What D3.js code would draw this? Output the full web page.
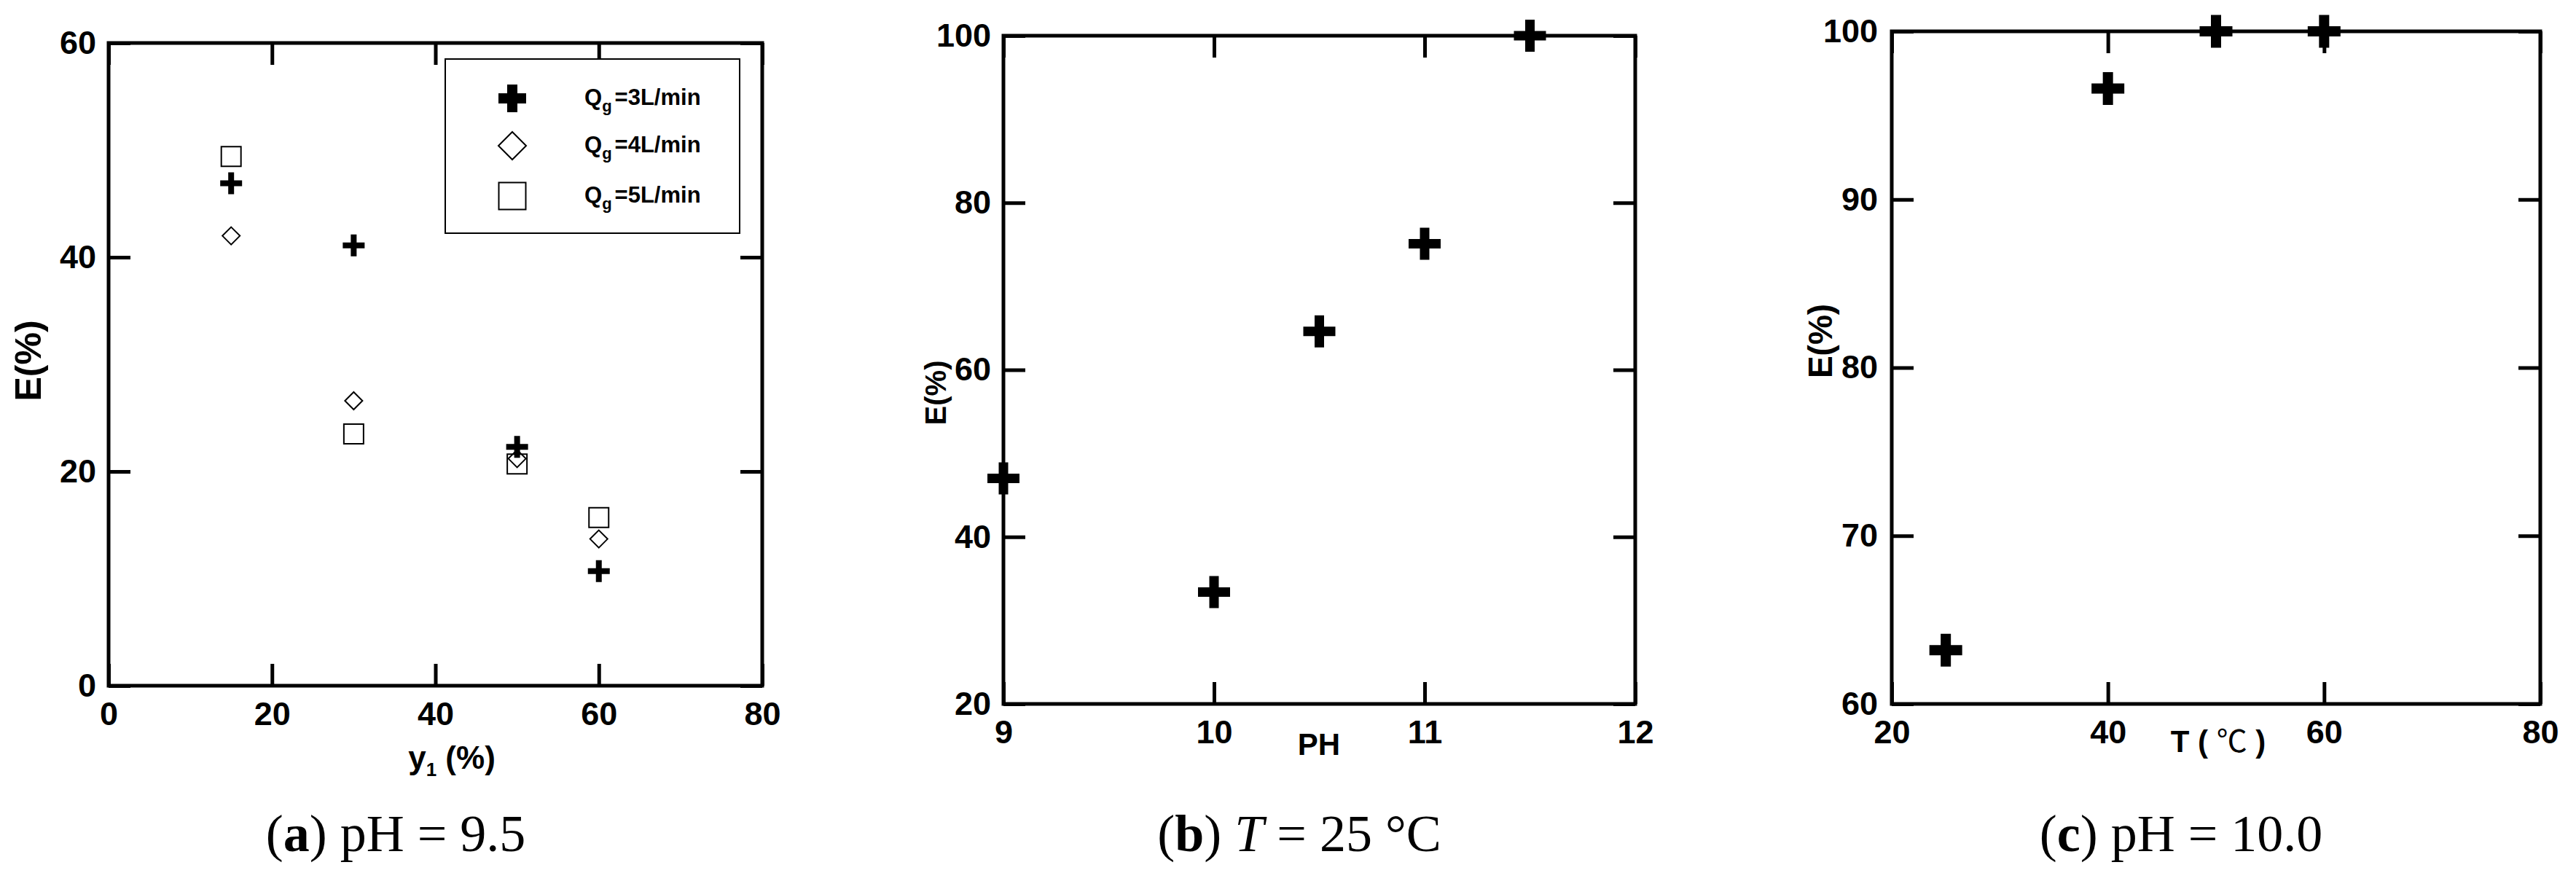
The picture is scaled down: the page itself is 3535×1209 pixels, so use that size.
<!DOCTYPE html>
<html>
<head>
<meta charset="utf-8">
<script src="https://d3js.org/d3.v7.min.js"></script>
<style>
  body { margin: 0; background: #fff; }
  svg { display: block; }
</style>
</head>
<body>
<svg id="chart"></svg>
<script>
// ---- data ----
var flowLabels = ["3L/min", "4L/min", "5L/min"];
var y1Pct = [15, 30, 50, 60];
var eQg3 = [46.9, 41.1, 22.3, 10.7];
var eQg4 = [42.0, 26.6, 21.2, 13.7];
var eQg5 = [49.4, 23.5, 20.7, 15.7];

var phValues = [9, 10, 10.5, 11, 11.5];
var ePh = [47.0, 33.4, 64.6, 75.1, 100];

var tempC = [25, 40, 50, 60];
var eTemp = [63.2, 96.6, 100, 100];

var xTicksA = [0, 20, 40, 60, 80], yTicksA = [0, 20, 40, 60];
var xTicksB = [9, 10, 11, 12], yTicksB = [20, 40, 60, 80, 100];
var xTicksC = [20, 40, 60, 80], yTicksC = [60, 70, 80, 90, 100];

var width = 3535, height = 1209;
var svg = d3.select("#chart").attr("width", width).attr("height", height);
svg.append("rect").attr("width", width).attr("height", height).attr("fill", "#fff");

var sans = "'Liberation Sans', Arial, sans-serif";
var serif = "'Liberation Serif', 'Times New Roman', serif";

// custom marker shapes for d3.symbol (size = full width squared)
function plusType(thick) {
    return {
        draw: function(ctx, size) {
            var h = Math.sqrt(size) / 2, a = thick / 2;
            ctx.moveTo(-h, -a); ctx.lineTo(-a, -a); ctx.lineTo(-a, -h);
            ctx.lineTo(a, -h); ctx.lineTo(a, -a); ctx.lineTo(h, -a);
            ctx.lineTo(h, a); ctx.lineTo(a, a); ctx.lineTo(a, h);
            ctx.lineTo(-a, h); ctx.lineTo(-a, a); ctx.lineTo(-h, a);
            ctx.closePath();
        }
    };
}
var diamondType = {
    draw: function(ctx, size) {
        var h = Math.sqrt(size) / 2;
        ctx.moveTo(0, -h); ctx.lineTo(h, 0); ctx.lineTo(0, h); ctx.lineTo(-h, 0);
        ctx.closePath();
    }
};

function makePanel(p) {
    var x = d3.scaleLinear().domain(p.xDomain).range([p.left, p.right]);
    var y = d3.scaleLinear().domain(p.yDomain).range([p.bottom, p.top]);
    var g = svg.append("g");
    var fmt = d3.format("d");

    g.append("rect")
        .attr("x", p.left).attr("y", p.top)
        .attr("width", p.right - p.left).attr("height", p.bottom - p.top)
        .attr("fill", "none").attr("stroke", "#000").attr("stroke-width", 5);

    var bottom = g.append("g").attr("transform", "translate(0," + p.bottom + ")")
        .call(d3.axisBottom(x).tickValues(p.xTicks).tickFormat(fmt).tickSizeInner(-30).tickSizeOuter(0).tickPadding(22));
    var top = g.append("g").attr("transform", "translate(0," + p.top + ")")
        .call(d3.axisTop(x).tickValues(p.xTicks).tickSizeInner(-30).tickSizeOuter(0).tickFormat(""));
    var left = g.append("g").attr("transform", "translate(" + p.left + ",0)")
        .call(d3.axisLeft(y).tickValues(p.yTicks).tickFormat(fmt).tickSizeInner(-30).tickSizeOuter(0).tickPadding(p.yPad));
    var right = g.append("g").attr("transform", "translate(" + p.right + ",0)")
        .call(d3.axisRight(y).tickValues(p.yTicks).tickSizeInner(-30).tickSizeOuter(0).tickFormat(""));

    [bottom, top, left, right].forEach(function(a) {
        a.select(".domain").remove();
        a.selectAll(".tick line").attr("stroke", "#000").attr("stroke-width", 5);
        a.selectAll(".tick text")
            .attr("fill", "#000")
            .attr("font-family", sans)
            .attr("font-weight", "bold")
            .attr("font-size", 45);
    });
    return { g: g, x: x, y: y };
}

// ---------- panel (a) ----------
var pa = makePanel({ left: 149, right: 1046, top: 59, bottom: 941,
    xDomain: [0, 80], yDomain: [0, 60], xTicks: xTicksA, yTicks: yTicksA, yPad: 17 });

var seriesA = [
    { values: eQg3, kind: "plus" },
    { values: eQg4, kind: "diamond" },
    { values: eQg5, kind: "square" }
];
var symA = {
    plus: d3.symbol().type(plusType(8)).size(30 * 30),
    diamond: d3.symbol().type(diamondType).size(24 * 24),
    square: d3.symbol().type(d3.symbolSquare).size(27 * 27)
};
seriesA.forEach(function(s) {
    pa.g.selectAll(null)
        .data(y1Pct.map(function(v, i) { return [v, s.values[i]]; }))
        .enter().append("path")
        .attr("transform", function(d) { return "translate(" + pa.x(d[0]) + "," + pa.y(d[1]) + ")"; })
        .attr("d", symA[s.kind])
        .attr("fill", s.kind == "plus" ? "#000" : "none")
        .attr("stroke", s.kind == "plus" ? "none" : "#000")
        .attr("stroke-width", 2);
});

// legend
var legend = pa.g.append("g");
legend.append("rect")
    .attr("x", 611).attr("y", 81).attr("width", 404).attr("height", 239)
    .attr("fill", "#fff").attr("stroke", "#000").attr("stroke-width", 2);
var legSym = [
    d3.symbol().type(plusType(14)).size(38 * 38),
    d3.symbol().type(diamondType).size(38 * 38),
    d3.symbol().type(d3.symbolSquare).size(37 * 37)
];
var legRowY = [135, 200, 269];
flowLabels.forEach(function(lab, i) {
    legend.append("path")
        .attr("transform", "translate(703," + legRowY[i] + ")")
        .attr("d", legSym[i])
        .attr("fill", i == 0 ? "#000" : "none")
        .attr("stroke", i == 0 ? "none" : "#000")
        .attr("stroke-width", 2);
    var t = legend.append("text")
        .attr("x", 802).attr("y", legRowY[i] + 9)
        .attr("font-family", sans).attr("font-weight", "bold").attr("font-size", 31);
    t.append("tspan").text("Q");
    t.append("tspan").attr("font-size", 22).attr("dy", 9).text("g");
    t.append("tspan").attr("dy", -9).attr("dx", 4).text("=" + lab);
});

// axis titles (a)
svg.append("text")
    .attr("transform", "translate(56,495) rotate(-90)")
    .attr("text-anchor", "middle")
    .attr("font-family", sans).attr("font-weight", "bold").attr("font-size", 50)
    .text("E(%)");
var ya = svg.append("text")
    .attr("x", 620).attr("y", 1055).attr("text-anchor", "middle")
    .attr("font-family", sans).attr("font-weight", "bold").attr("font-size", 44);
ya.append("tspan").text("y");
ya.append("tspan").attr("font-size", 26).attr("dy", 10).text("1");
ya.append("tspan").attr("dy", -10).text(" (%)");

// ---------- panel (b) ----------
var pb = makePanel({ left: 1377, right: 2244, top: 49, bottom: 966,
    xDomain: [9, 12], yDomain: [20, 100], xTicks: xTicksB, yTicks: yTicksB, yPad: 17 });
pb.g.selectAll(null)
    .data(phValues.map(function(v, i) { return [v, ePh[i]]; }))
    .enter().append("path")
    .attr("transform", function(d) { return "translate(" + pb.x(d[0]) + "," + pb.y(d[1]) + ")"; })
    .attr("d", d3.symbol().type(plusType(13)).size(44 * 44))
    .attr("fill", "#000");

svg.append("text")
    .attr("transform", "translate(1298,539) rotate(-90)")
    .attr("text-anchor", "middle")
    .attr("font-family", sans).attr("font-weight", "bold").attr("font-size", 40)
    .text("E(%)");
svg.append("text")
    .attr("x", 1810).attr("y", 1036).attr("text-anchor", "middle")
    .attr("font-family", sans).attr("font-weight", "bold").attr("font-size", 42)
    .text("PH");

// ---------- panel (c) ----------
var pc = makePanel({ left: 2596, right: 3486, top: 43, bottom: 966,
    xDomain: [20, 80], yDomain: [60, 100], xTicks: xTicksC, yTicks: yTicksC, yPad: 19 });
pc.g.selectAll(null)
    .data(tempC.map(function(v, i) { return [v, eTemp[i]]; }))
    .enter().append("path")
    .attr("transform", function(d) { return "translate(" + pc.x(d[0]) + "," + pc.y(d[1]) + ")"; })
    .attr("d", d3.symbol().type(plusType(14)).size(45 * 45))
    .attr("fill", "#000");

svg.append("text")
    .attr("transform", "translate(2514,468) rotate(-90)")
    .attr("text-anchor", "middle")
    .attr("font-family", sans).attr("font-weight", "bold").attr("font-size", 46)
    .text("E(%)");
var tc = svg.append("text")
    .attr("x", 3044).attr("y", 1032).attr("text-anchor", "middle")
    .attr("font-family", sans).attr("font-weight", "bold").attr("font-size", 42);
tc.append("tspan").text("T ( ");
tc.append("tspan").attr("font-weight", "normal").attr("font-family", "'Noto Sans CJK SC', sans-serif").text("℃");
tc.append("tspan").text(" )");

// ---------- captions ----------
var captions = [
    { cx: 543, parts: [["(", ""], ["a", "bold"], [") pH = 9.5", ""]] },
    { cx: 1783, parts: [["(", ""], ["b", "bold"], [") ", ""], ["T", "italic"], [" = 25 °C", ""]] },
    { cx: 2993, parts: [["(", ""], ["c", "bold"], [") pH = 10.0", ""]] }
];
captions.forEach(function(c) {
    var t = svg.append("text")
        .attr("x", c.cx).attr("y", 1168).attr("text-anchor", "middle")
        .attr("font-family", serif).attr("font-size", 72).attr("fill", "#000");
    c.parts.forEach(function(pt) {
        var s = t.append("tspan").text(pt[0]);
        if (pt[1] == "bold") s.attr("font-weight", "bold");
        if (pt[1] == "italic") s.attr("font-style", "italic");
    });
});
</script>
</body>
</html>
